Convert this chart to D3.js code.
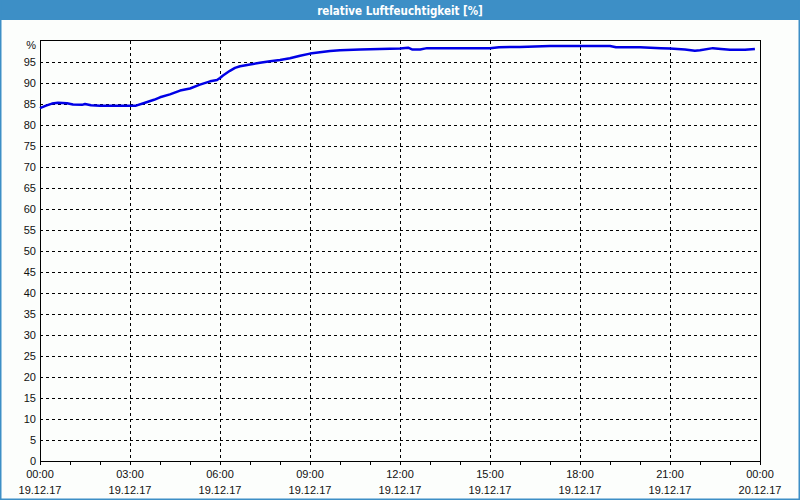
<!DOCTYPE html>
<html>
<head>
<meta charset="utf-8">
<script src="https://cdn.jsdelivr.net/npm/d3@7"></script>
<style>
html,body{margin:0;padding:0;background:#fcfefc;}
svg{display:block;}
</style>
</head>
<body>
<svg id="chart" width="800" height="500"></svg>
<script>
const title = "relative Luftfeuchtigkeit [%]";
// hours since 19.12.17 00:00
const hours = [0.0,0.2,0.4,0.6,0.9,1.1,1.4,1.5,1.7,2.0,2.5,3.0,3.2,3.5,3.8,4.0,4.33,4.67,5.0,5.33,5.67,5.9,6.0,6.1,6.33,6.5,6.67,7.0,7.33,7.67,8.0,8.33,8.67,9.0,9.33,9.67,10.0,10.67,11.33,12.0,12.27,12.4,12.67,12.9,13.33,14.0,15.0,15.3,16.0,16.5,17.0,18.0,19.0,19.2,20.0,20.7,21.0,21.5,21.83,22.0,22.43,22.7,23.0,23.5,23.83];
const humidity = [84.0,84.6,85.1,85.3,85.2,84.9,84.8,85.0,84.7,84.6,84.6,84.6,84.6,85.3,86.0,86.6,87.3,88.2,88.7,89.6,90.4,90.7,91.2,91.8,92.9,93.6,94.0,94.4,94.8,95.2,95.5,95.9,96.5,97.0,97.3,97.6,97.8,98.0,98.1,98.2,98.4,98.0,98.0,98.3,98.3,98.3,98.3,98.5,98.6,98.7,98.8,98.8,98.8,98.5,98.5,98.3,98.2,98.0,97.7,97.8,98.3,98.1,97.9,97.9,98.1];
const yTicks = [0,5,10,15,20,25,30,35,40,45,50,55,60,65,70,75,80,85,90,95];
const xMajorTicks = [0,3,6,9,12,15,18,21,24];
const xTimeLabels = ["00:00","03:00","06:00","09:00","12:00","15:00","18:00","21:00","00:00"];
const xDateLabels = ["19.12.17","19.12.17","19.12.17","19.12.17","19.12.17","19.12.17","19.12.17","19.12.17","20.12.17"];
const xMinorTicks = d3.range(0,25,1);

const svg = d3.select("#chart");
const W = 800, H = 500;
const blue = "#3d8fc6";
const font = "'Liberation Sans', Arial, sans-serif";

// frame / title bar
svg.append("rect").attr("x",0).attr("y",0).attr("width",W).attr("height",H).attr("fill","#fcfefc");
svg.append("rect").attr("x",0).attr("y",0).attr("width",W).attr("height",20).attr("fill",blue);
svg.append("rect").attr("x",0.5).attr("y",0).attr("width",W-1).attr("height",H-0.5)
  .attr("fill","none").attr("stroke",blue).attr("stroke-width",2);
svg.append("text").attr("x",W/2).attr("y",14.5).attr("text-anchor","middle")
  .attr("fill","#fff").attr("font-family","'DejaVu Sans Condensed','DejaVu Sans',sans-serif")
  .attr("font-size","11.5px").attr("font-weight","bold").text(title);

const x0 = 40, x1 = 760, yTop = 41, yBot = 461;
const x = d3.scaleLinear().domain([0,24]).range([x0,x1]);
const y = d3.scaleLinear().domain([0,100]).range([yBot,yTop]);

const g = svg.append("g");

// horizontal dashed grid
g.selectAll("line.hg").data(yTicks.filter(d=>d>0)).enter().append("line")
  .attr("x1",x0).attr("x2",x1).attr("y1",d=>Math.round(y(d))+0.5).attr("y2",d=>Math.round(y(d))+0.5)
  .attr("stroke","#000").attr("stroke-width",1).attr("stroke-dasharray","3,3").attr("shape-rendering","crispEdges");
// vertical dashed grid
g.selectAll("line.vg").data(xMajorTicks.filter(d=>d>0&&d<24)).enter().append("line")
  .attr("x1",d=>Math.round(x(d))+0.5).attr("x2",d=>Math.round(x(d))+0.5).attr("y1",yTop).attr("y2",yBot)
  .attr("stroke","#000").attr("stroke-width",1).attr("stroke-dasharray","3,3").attr("shape-rendering","crispEdges");

// plot frame
g.append("rect").attr("x",x0+0.5).attr("y",yTop-0.5).attr("width",x1-x0).attr("height",yBot-yTop+0.5)
  .attr("fill","none").attr("stroke","#000").attr("stroke-width",1).attr("shape-rendering","crispEdges");

// minor ticks on x axis
g.selectAll("line.mt").data(xMinorTicks).enter().append("line")
  .attr("x1",d=>Math.round(x(d))+0.5).attr("x2",d=>Math.round(x(d))+0.5).attr("y1",yBot).attr("y2",yBot+4)
  .attr("stroke","#000").attr("stroke-width",1).attr("shape-rendering","crispEdges");

// y labels
g.selectAll("text.yl").data(yTicks).enter().append("text")
  .attr("x",36).attr("y",d=>y(d)+4).attr("text-anchor","end")
  .attr("font-family",font).attr("font-size","11px").attr("fill","#111").text(d=>d);
g.append("text").attr("x",36).attr("y",49).attr("text-anchor","end")
  .attr("font-family",font).attr("font-size","11px").attr("fill","#111").text("%");

// x labels
g.selectAll("text.xt").data(xMajorTicks).enter().append("text")
  .attr("x",d=>x(d)).attr("y",478).attr("text-anchor","middle")
  .attr("font-family",font).attr("font-size","11px").attr("fill","#111").text((d,i)=>xTimeLabels[i]);
g.selectAll("text.xd").data(xMajorTicks).enter().append("text")
  .attr("x",d=>x(d)).attr("y",494).attr("text-anchor","middle")
  .attr("font-family",font).attr("font-size","11px").attr("fill","#111").text((d,i)=>xDateLabels[i]);

// data line
const data = hours.map((h,i)=>({h, v: humidity[i]}));
g.append("path").datum(data)
  .attr("d", d3.line().x(d=>x(d.h)).y(d=>y(d.v)))
  .attr("fill","none").attr("stroke","#0000e6").attr("stroke-width",2.5).attr("stroke-linejoin","round");
</script>
</body>
</html>
